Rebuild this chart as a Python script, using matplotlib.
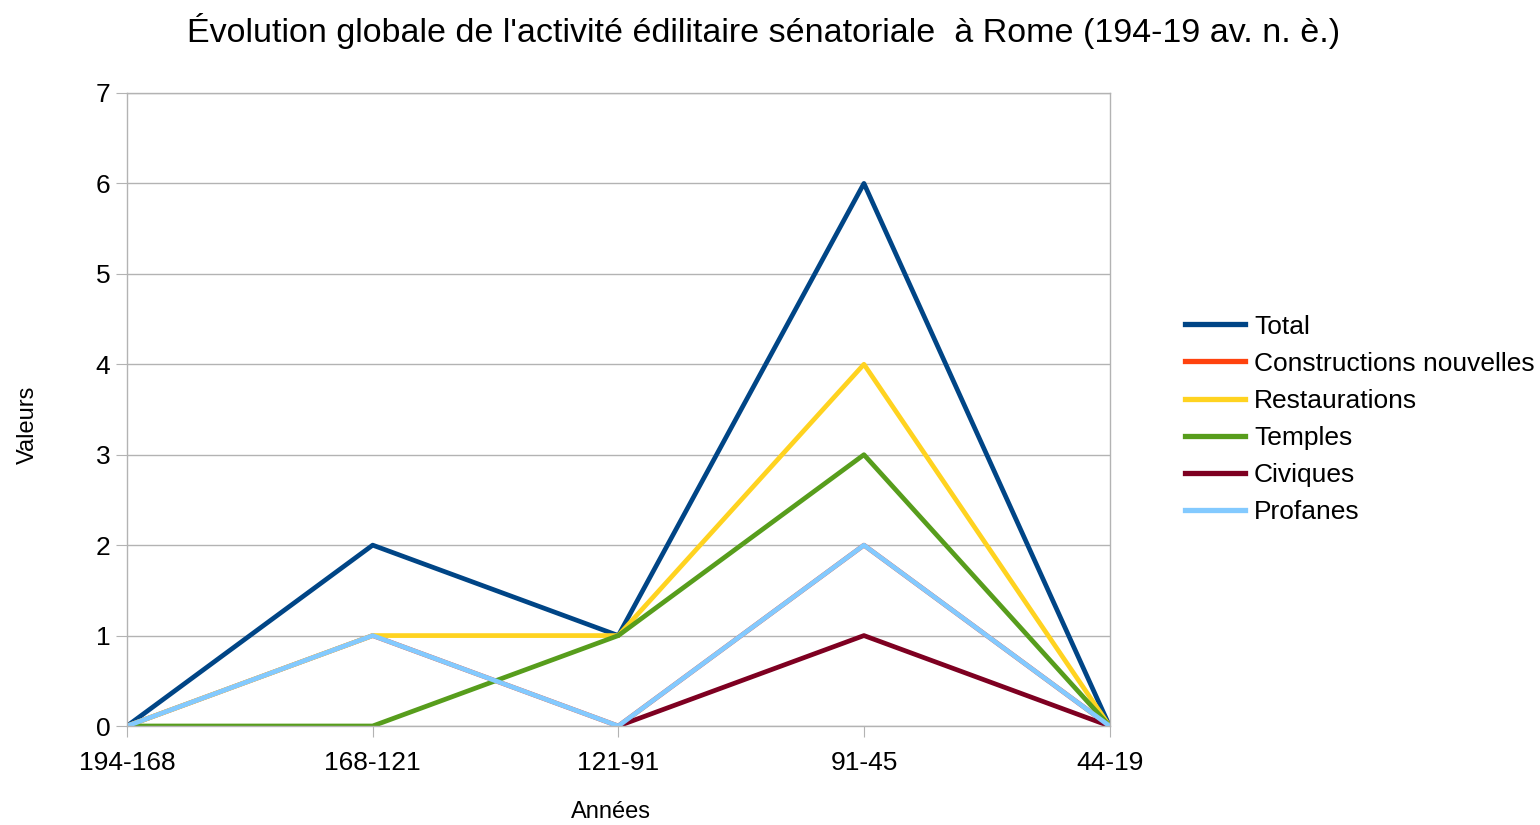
import matplotlib
matplotlib.use("Agg")
import matplotlib.pyplot as plt
from matplotlib.lines import Line2D
import numpy as np

plt.rcParams['font.family'] = ['Liberation Sans', 'DejaVu Sans']

periodes = ["194-168", "168-121", "121-91", "91-45", "44-19"]
total = [0, 2, 1, 6, 0]
constructions = [0, 1, 0, 2, 0]
restaurations = [0, 1, 1, 4, 0]
temples = [0, 0, 1, 3, 0]
civiques = [np.nan, np.nan, 0, 1, 0]
profanes = [0, 1, 0, 2, 0]

series = [
    ("Total", total, "#004586"),
    ("Constructions nouvelles", constructions, "#ff420e"),
    ("Restaurations", restaurations, "#ffd320"),
    ("Temples", temples, "#579d1c"),
    ("Civiques", civiques, "#7e0021"),
    ("Profanes", profanes, "#83caff"),
]

fig = plt.figure(figsize=(15.4, 8.25), dpi=100)
ax = fig.add_axes([0.0825, 0.12, 0.638, 0.7673])

x = list(range(len(periodes)))
for name, vals, col in series:
    ax.plot(x, vals, color=col, lw=3.4, label=name)

ax.set_xlim(0, len(periodes) - 1)
ax.set_ylim(0, 7)
ax.set_xticks(x)
ax.set_xticklabels(periodes)
ax.set_yticks(range(8))
ax.tick_params(axis='y', labelsize=19, length=8, color='#b3b3b3', pad=4)
ax.tick_params(axis='x', labelsize=19, length=8, color='#b3b3b3', pad=10)
ax.grid(axis='y', color='#b3b3b3', lw=1)
ax.set_axisbelow(True)
for s in ax.spines.values():
    s.set_color('#b3b3b3')
    s.set_linewidth(1)

# axis titles, centred where LibreOffice put them
ax.set_xlabel("Années", fontsize=17, va='center')
ax.xaxis.set_label_coords(0.493, -0.136)
ax.set_ylabel("Valeurs", fontsize=17, va='center')
ax.yaxis.set_label_coords(-0.101, 0.476)
fig.text(0.496, 0.963, "Évolution globale de l'activité édilitaire sénatoriale  à Rome (194-19 av. n. è.)",
         fontsize=24.5, ha='center', va='center')

handles = [Line2D([], [], color=c, lw=3.8) for _, _, c in series]
fig.legend(handles, [n for n, _, _ in series], loc='center left',
           bbox_to_anchor=(0.7612, 0.4915), frameon=False, fontsize=19,
           handlelength=2.25, handletextpad=0.35, labelspacing=0.5, borderpad=0)

fig.savefig("out.png", dpi=100)
